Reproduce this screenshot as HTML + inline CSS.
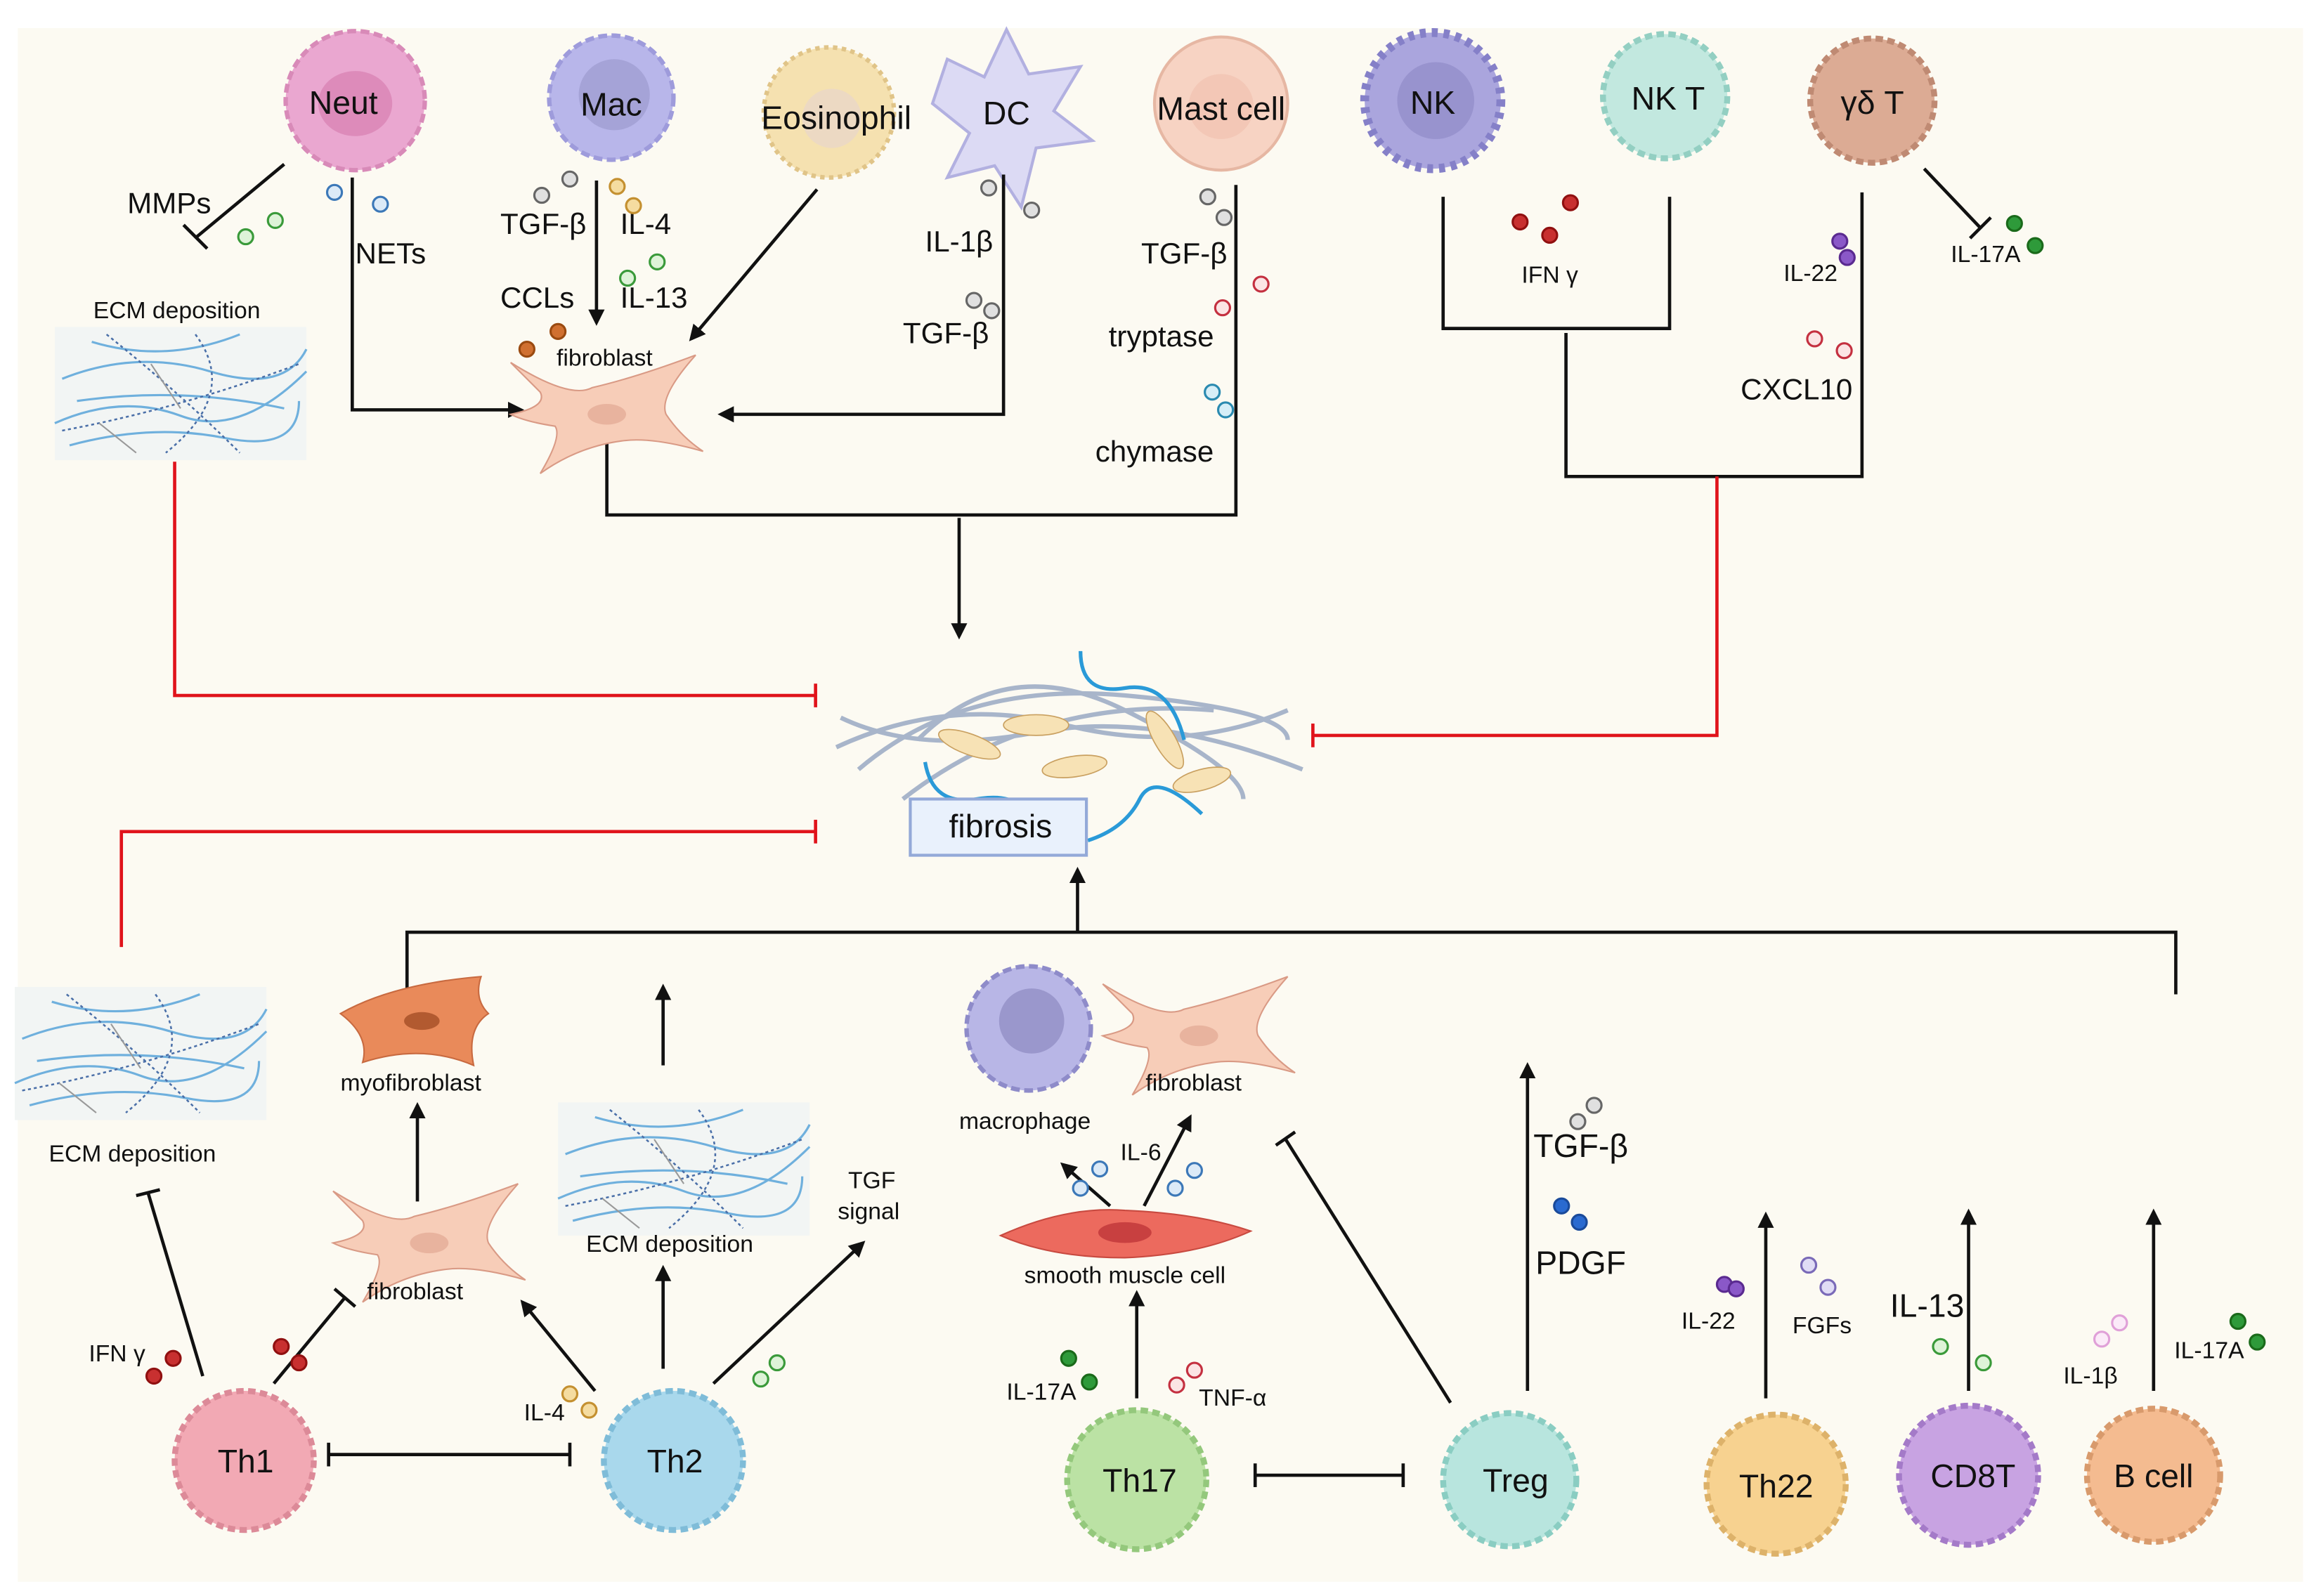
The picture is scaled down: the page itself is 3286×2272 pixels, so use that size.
<!DOCTYPE html>
<html><head><meta charset="utf-8"><style>
html,body{margin:0;padding:0;background:#fff;}
svg{display:block;}
text{font-family:"Liberation Sans",sans-serif;fill:#111;}
</style></head><body>
<svg width="3286" height="2272" viewBox="0 0 1560 1078.6" preserveAspectRatio="none" xmlns="http://www.w3.org/2000/svg">
<defs>
<marker id="a" viewBox="0 0 10 10" refX="8" refY="5" markerWidth="5" markerHeight="5" orient="auto-start-reverse"><path d="M0,0 L10,5 L0,10 z" fill="#111"/></marker>
<g id="fib"><path d="M-65,-35 Q-25,-10 -10,-18 Q20,-25 60,-40 Q35,-12 40,0 Q50,15 65,25 Q30,15 10,18 Q-20,22 -45,40 Q-30,15 -35,8 Q-55,5 -65,0 Q-40,-5 -45,-15 Z" fill="#f7cdb8" stroke="#d99a85" stroke-width="1"/><ellipse cx="0" cy="0" rx="13" ry="7" fill="#e8b39e"/></g>
<g id="ecm">
<rect x="-85" y="-45" width="170" height="90" fill="#f2f5f4"/>
<g fill="none" stroke="#6fb0dd" stroke-width="1.5">
<path d="M-85,20 Q-40,0 0,15 T85,-15"/><path d="M-80,-10 Q-30,-30 20,-15 T85,-30"/><path d="M-75,35 Q-20,20 30,30 T80,5"/><path d="M-60,-35 Q-10,-20 40,-40"/><path d="M-70,5 Q0,-5 70,10"/></g>
<g fill="none" stroke="#4a6fa8" stroke-width="1.2" stroke-dasharray="2 2">
<path d="M-50,-40 Q0,0 40,40"/><path d="M-80,25 Q0,10 80,-20"/><path d="M10,-40 Q40,0 -10,40"/></g>
<g fill="none" stroke="#999" stroke-width="1"><path d="M-55,20 L-30,40"/><path d="M-20,-20 L0,10"/></g>
</g>
</defs>
<rect x="0" y="0" width="1560" height="1078.6" fill="#fff"/>
<rect x="12" y="19" width="1544" height="1050" fill="#fcfaf2"/>

<!-- ===== TOP CELLS ===== -->
<g stroke-width="3">
<circle cx="240" cy="68" r="47" fill="#eaa7d0" stroke="#d88ab8" stroke-dasharray="6 3"/>
<ellipse cx="240" cy="70" rx="25" ry="22" fill="#d77fb0" opacity="0.7"/>
<circle cx="413" cy="66" r="42" fill="#b8b6ea" stroke="#9e9bdb" stroke-dasharray="6 3"/>
<circle cx="415" cy="64" r="24" fill="#9896c9" opacity="0.6"/>
<circle cx="560" cy="76" r="44" fill="#f5e1b0" stroke="#e0c488" stroke-dasharray="3 3"/>
<circle cx="562" cy="80" r="20" fill="#e8d5cc" opacity="0.7"/>
<path d="M640,40 L665,52 L680,20 L695,50 L730,45 L712,75 L738,95 L700,100 L690,140 L672,112 L640,120 L655,90 L630,70 Z" fill="#dcdaf4" stroke="#b2b0e0" stroke-width="2"/>
<circle cx="825" cy="70" r="45" fill="#f7d3c3" stroke="#e6b7a3" stroke-width="2"/>
<circle cx="825" cy="72" r="22" fill="#f0c0ad" opacity="0.6"/>
<circle cx="968" cy="68" r="46" fill="#aaa5dd" stroke="#8580c8" stroke-dasharray="4 4" stroke-width="6"/>
<circle cx="970" cy="68" r="26" fill="#8c87c5" opacity="0.6"/>
<circle cx="1125" cy="65" r="42" fill="#c2e8df" stroke="#93cfc2" stroke-dasharray="5 3" stroke-width="4"/>
<circle cx="1265" cy="68" r="42" fill="#dcab94" stroke="#bf8a73" stroke-dasharray="5 3" stroke-width="4"/>
</g>
<g font-size="22" text-anchor="middle">
<text x="232" y="77">Neut</text><text x="413" y="78">Mac</text><text x="565" y="87">Eosinophil</text>
<text x="680" y="84">DC</text><text x="825" y="81">Mast cell</text><text x="968" y="77">NK</text>
<text x="1127" y="74">NK T</text><text x="1265" y="77">γδ T</text>
</g>

<!-- ===== TOP CONNECTORS ===== -->
<g stroke="#111" stroke-width="2.2" fill="none">
<line x1="192" y1="111" x2="133" y2="160"/><line x1="124" y1="152" x2="140" y2="168" transform="rotate(0)"/>
<polyline points="238,120 238,277 352,277" marker-end="url(#a)"/>
<line x1="403" y1="122" x2="403" y2="218" marker-end="url(#a)"/>
<line x1="552" y1="128" x2="467" y2="229" marker-end="url(#a)"/>
<polyline points="678,118 678,280 487,280" marker-end="url(#a)"/>
<polyline points="410,300 410,348 835,348 835,125"/>
<line x1="648" y1="350" x2="648" y2="430" marker-end="url(#a)"/>
<polyline points="975,133 975,222 1128,222 1128,133"/>
<polyline points="1058,225 1058,322 1258,322 1258,130"/>
<line x1="1300" y1="114" x2="1338" y2="154"/><line x1="1331" y1="161" x2="1345" y2="147"/>
</g>
<g stroke="#e0131b" stroke-width="2.2" fill="none">
<polyline points="1160,322 1160,497 887,497"/><line x1="887" y1="489" x2="887" y2="505"/>
<polyline points="118,312 118,470 551,470"/><line x1="551" y1="462" x2="551" y2="478"/>
<polyline points="82,640 82,562 551,562"/><line x1="551" y1="554" x2="551" y2="570"/>
</g>

<!-- top labels -->
<g font-size="20">
<text x="86" y="144">MMPs</text><text x="240" y="178">NETs</text>
<text x="338" y="158">TGF-β</text><text x="419" y="158">IL-4</text>
<text x="338" y="208">CCLs</text><text x="419" y="208">IL-13</text>
<text x="625" y="170">IL-1β</text><text x="610" y="232">TGF-β</text>
<text x="771" y="178">TGF-β</text><text x="749" y="234">tryptase</text><text x="740" y="312">chymase</text>
<text x="1176" y="270">CXCL10</text>
</g>
<g font-size="16">
<text x="63" y="215">ECM deposition</text><text x="376" y="247">fibroblast</text>
<text x="1028" y="191">IFN γ</text><text x="1205" y="190">IL-22</text><text x="1318" y="177">IL-17A</text>
</g>

<!-- dots top -->
<g stroke-width="1.5" fill="#fff">
<circle cx="166" cy="160" r="5" stroke="#3a9a3a" fill="#def3d8"/><circle cx="186" cy="149" r="5" stroke="#3a9a3a" fill="#def3d8"/>
<circle cx="226" cy="130" r="5" stroke="#3c78b8" fill="#dceaf7"/><circle cx="257" cy="138" r="5" stroke="#3c78b8" fill="#dceaf7"/>
<circle cx="366" cy="132" r="5" stroke="#666" fill="#e0e0e0"/><circle cx="385" cy="121" r="5" stroke="#666" fill="#e0e0e0"/>
<circle cx="417" cy="126" r="5" stroke="#c49030" fill="#f5dca0"/><circle cx="428" cy="139" r="5" stroke="#c49030" fill="#f5dca0"/>
<circle cx="444" cy="177" r="5" stroke="#3a9a3a" fill="#def3d8"/><circle cx="424" cy="188" r="5" stroke="#3a9a3a" fill="#def3d8"/>
<circle cx="356" cy="236" r="5" stroke="#9a4a10" fill="#d07030"/><circle cx="377" cy="224" r="5" stroke="#9a4a10" fill="#d07030"/>
<circle cx="668" cy="127" r="5" stroke="#666" fill="#e0e0e0"/><circle cx="697" cy="142" r="5" stroke="#666" fill="#e0e0e0"/>
<circle cx="658" cy="203" r="5" stroke="#666" fill="#e0e0e0"/><circle cx="670" cy="210" r="5" stroke="#666" fill="#e0e0e0"/>
<circle cx="816" cy="133" r="5" stroke="#666" fill="#e0e0e0"/><circle cx="827" cy="147" r="5" stroke="#666" fill="#e0e0e0"/>
<circle cx="852" cy="192" r="5" stroke="#c43040" fill="#fbe4e4"/><circle cx="826" cy="208" r="5" stroke="#c43040" fill="#fbe4e4"/>
<circle cx="819" cy="265" r="5" stroke="#2a8ab0" fill="#d6eef7"/><circle cx="828" cy="277" r="5" stroke="#2a8ab0" fill="#d6eef7"/>
<circle cx="1027" cy="150" r="5" stroke="#901010" fill="#c83030"/><circle cx="1061" cy="137" r="5" stroke="#901010" fill="#c83030"/><circle cx="1047" cy="159" r="5" stroke="#901010" fill="#c83030"/>
<circle cx="1243" cy="163" r="5" stroke="#5a2a90" fill="#8a58c8"/><circle cx="1248" cy="174" r="5" stroke="#5a2a90" fill="#8a58c8"/>
<circle cx="1361" cy="151" r="5" stroke="#1a6a1a" fill="#2e9a3a"/><circle cx="1375" cy="166" r="5" stroke="#1a6a1a" fill="#2e9a3a"/>
<circle cx="1226" cy="229" r="5" stroke="#c43040" fill="#fbe4e4"/><circle cx="1246" cy="237" r="5" stroke="#c43040" fill="#fbe4e4"/>
</g>

<use href="#ecm" x="122" y="266"/>
<use href="#fib" x="410" y="280"/>

<!-- ===== FIBROSIS CENTER ===== -->
<g fill="none">
<g stroke="#9aaac4" stroke-width="3" opacity="0.85">
<path d="M568,485 Q620,510 700,495 T880,520"/><path d="M565,505 Q640,470 720,490 T870,480"/>
<path d="M580,520 Q650,460 760,470 T870,500"/><path d="M610,540 Q700,470 820,480"/>
<path d="M620,500 Q680,440 760,480 T840,540"/></g>
<path d="M730,440 Q730,470 760,465 T800,500" stroke="#2a9ad8" stroke-width="2.5"/>
<path d="M625,515 Q630,545 660,540 T695,555" stroke="#2a9ad8" stroke-width="2.5"/>
<path d="M735,568 Q760,560 770,540 T812,550" stroke="#2a9ad8" stroke-width="2.5"/>
</g>
<g fill="#f7e2b5" stroke="#c9a060" stroke-width="0.8">
<ellipse cx="655" cy="503" rx="22" ry="7" transform="rotate(20 655 503)"/>
<ellipse cx="700" cy="490" rx="22" ry="7"/>
<ellipse cx="726" cy="518" rx="22" ry="7" transform="rotate(-8 726 518)"/>
<ellipse cx="787" cy="500" rx="22" ry="7" transform="rotate(60 787 500)"/>
<ellipse cx="812" cy="527" rx="20" ry="7" transform="rotate(-15 812 527)"/>
</g>
<rect x="615" y="540" width="119" height="38" fill="#e9f1fc" stroke="#93a9d8" stroke-width="2"/>
<text x="676" y="566" font-size="22" text-anchor="middle">fibrosis</text>

<!-- ===== BOTTOM CONNECTORS ===== -->
<g stroke="#111" stroke-width="2.2" fill="none">
<line x1="728" y1="630" x2="728" y2="588" marker-end="url(#a)"/>
<polyline points="275,672 275,630 1470,630 1470,672"/>
<line x1="448" y1="720" x2="448" y2="667" marker-end="url(#a)"/>
<line x1="282" y1="812" x2="282" y2="747" marker-end="url(#a)"/>
<line x1="185" y1="935" x2="233" y2="877"/><line x1="226" y1="871" x2="240" y2="883"/>
<line x1="137" y1="930" x2="100" y2="806"/><line x1="92" y1="808" x2="108" y2="804"/>
<line x1="222" y1="983" x2="385" y2="983"/><line x1="222" y1="975" x2="222" y2="991"/><line x1="385" y1="975" x2="385" y2="991"/>
<line x1="402" y1="940" x2="353" y2="880" marker-end="url(#a)"/>
<line x1="448" y1="925" x2="448" y2="857" marker-end="url(#a)"/>
<line x1="482" y1="935" x2="583" y2="840" marker-end="url(#a)"/>
<line x1="768" y1="945" x2="768" y2="874" marker-end="url(#a)"/>
<line x1="750" y1="815" x2="718" y2="787" marker-end="url(#a)"/>
<line x1="773" y1="815" x2="804" y2="755" marker-end="url(#a)"/>
<line x1="980" y1="948" x2="868" y2="769"/><line x1="862" y1="774" x2="875" y2="765"/>
<line x1="848" y1="997" x2="948" y2="997"/><line x1="848" y1="989" x2="848" y2="1005"/><line x1="948" y1="989" x2="948" y2="1005"/>
<line x1="1032" y1="940" x2="1032" y2="720" marker-end="url(#a)"/>
<line x1="1193" y1="945" x2="1193" y2="821" marker-end="url(#a)"/>
<line x1="1330" y1="940" x2="1330" y2="819" marker-end="url(#a)"/>
<line x1="1455" y1="940" x2="1455" y2="819" marker-end="url(#a)"/>
</g>

<!-- bottom illustrations -->
<use href="#ecm" x="95" y="712"/>
<use href="#ecm" x="462" y="790"/>
<g transform="translate(285,690)"><path d="M-55,-5 Q-20,-25 40,-30 Q35,-15 45,-5 Q30,5 35,30 Q0,15 -40,28 Q-35,10 -55,-5Z" fill="#e98a5a" stroke="#c86a40" stroke-width="1"/><ellipse cx="0" cy="0" rx="12" ry="6" fill="#b25a30"/></g>
<use href="#fib" x="290" y="840"/>
<use href="#fib" x="810" y="700"/>
<g><circle cx="695" cy="695" r="42" fill="#b8b6e6" stroke="#8e8bc9" stroke-width="3" stroke-dasharray="6 3"/><circle cx="697" cy="690" r="22" fill="#9a97cc"/></g>
<path d="M676,835 Q720,815 760,818 Q810,820 845,832 Q810,848 760,850 Q710,850 676,835Z" fill="#ec6a5e" stroke="#c84a40" stroke-width="1"/>
<ellipse cx="760" cy="833" rx="18" ry="7" fill="#c84040"/>

<!-- bottom cells -->
<g stroke-width="4" stroke-dasharray="5 3">
<circle cx="165" cy="987" r="47" fill="#f2a9b4" stroke="#dc8a98"/>
<circle cx="455" cy="987" r="47" fill="#a9d8ec" stroke="#7fbcd8"/>
<circle cx="768" cy="1000" r="47" fill="#bbe2a4" stroke="#94c87c"/>
<circle cx="1020" cy="1000" r="45" fill="#b8e5de" stroke="#8acdc2"/>
<circle cx="1200" cy="1003" r="47" fill="#f7d290" stroke="#ddb26a"/>
<circle cx="1330" cy="997" r="47" fill="#c8a3e2" stroke="#a47ac8"/>
<circle cx="1455" cy="997" r="45" fill="#f4bb90" stroke="#d89a6c"/>
</g>
<g font-size="22" text-anchor="middle">
<text x="166" y="995">Th1</text><text x="456" y="995">Th2</text><text x="770" y="1008">Th17</text>
<text x="1024" y="1008">Treg</text><text x="1200" y="1012">Th22</text><text x="1333" y="1005">CD8T</text><text x="1455" y="1005">B cell</text>
<text x="1068" y="782">TGF-β</text><text x="1068" y="861">PDGF</text><text x="1302" y="890">IL-13</text>
</g>
<g font-size="16">
<text x="230" y="737">myofibroblast</text><text x="33" y="785">ECM deposition</text>
<text x="248" y="878">fibroblast</text><text x="396" y="846">ECM deposition</text>
<text x="573" y="803">TGF</text><text x="566" y="824">signal</text>
<text x="648" y="763">macrophage</text><text x="774" y="737">fibroblast</text><text x="757" y="784">IL-6</text>
<text x="692" y="867">smooth muscle cell</text>
<text x="60" y="920">IFN γ</text><text x="354" y="960">IL-4</text>
<text x="680" y="946">IL-17A</text><text x="810" y="950">TNF-α</text>
<text x="1136" y="898">IL-22</text><text x="1211" y="901">FGFs</text>
<text x="1394" y="935">IL-1β</text><text x="1469" y="918">IL-17A</text>
</g>
<g stroke-width="1.5">
<circle cx="104" cy="930" r="5" stroke="#901010" fill="#c83030"/><circle cx="117" cy="918" r="5" stroke="#901010" fill="#c83030"/>
<circle cx="190" cy="910" r="5" stroke="#901010" fill="#c83030"/><circle cx="202" cy="921" r="5" stroke="#901010" fill="#c83030"/>
<circle cx="385" cy="942" r="5" stroke="#c49030" fill="#f5dca0"/><circle cx="398" cy="953" r="5" stroke="#c49030" fill="#f5dca0"/>
<circle cx="514" cy="932" r="5" stroke="#3a9a3a" fill="#def3d8"/><circle cx="525" cy="921" r="5" stroke="#3a9a3a" fill="#def3d8"/>
<circle cx="722" cy="918" r="5" stroke="#1a6a1a" fill="#2e9a3a"/><circle cx="736" cy="934" r="5" stroke="#1a6a1a" fill="#2e9a3a"/>
<circle cx="795" cy="936" r="5" stroke="#c43040" fill="#fbe4e4"/><circle cx="807" cy="926" r="5" stroke="#c43040" fill="#fbe4e4"/>
<circle cx="730" cy="803" r="5" stroke="#3c78b8" fill="#dceaf7"/><circle cx="743" cy="790" r="5" stroke="#3c78b8" fill="#dceaf7"/>
<circle cx="794" cy="803" r="5" stroke="#3c78b8" fill="#dceaf7"/><circle cx="807" cy="791" r="5" stroke="#3c78b8" fill="#dceaf7"/>
<circle cx="1066" cy="758" r="5" stroke="#666" fill="#e0e0e0"/><circle cx="1077" cy="747" r="5" stroke="#666" fill="#e0e0e0"/>
<circle cx="1055" cy="815" r="5" stroke="#1a4a9a" fill="#2a6ad0"/><circle cx="1067" cy="826" r="5" stroke="#1a4a9a" fill="#2a6ad0"/>
<circle cx="1165" cy="868" r="5" stroke="#5a2a90" fill="#8a58c8"/><circle cx="1173" cy="871" r="5" stroke="#5a2a90" fill="#8a58c8"/>
<circle cx="1222" cy="855" r="5" stroke="#7a6ab8" fill="#e0dcf5"/><circle cx="1235" cy="870" r="5" stroke="#7a6ab8" fill="#e0dcf5"/>
<circle cx="1311" cy="910" r="5" stroke="#3a9a3a" fill="#def3d8"/><circle cx="1340" cy="921" r="5" stroke="#3a9a3a" fill="#def3d8"/>
<circle cx="1420" cy="905" r="5" stroke="#e0a0d8" fill="#fbeaf8"/><circle cx="1432" cy="894" r="5" stroke="#e0a0d8" fill="#fbeaf8"/>
<circle cx="1512" cy="893" r="5" stroke="#1a6a1a" fill="#2e9a3a"/><circle cx="1525" cy="907" r="5" stroke="#1a6a1a" fill="#2e9a3a"/>
</g>
</svg>
</body></html>
